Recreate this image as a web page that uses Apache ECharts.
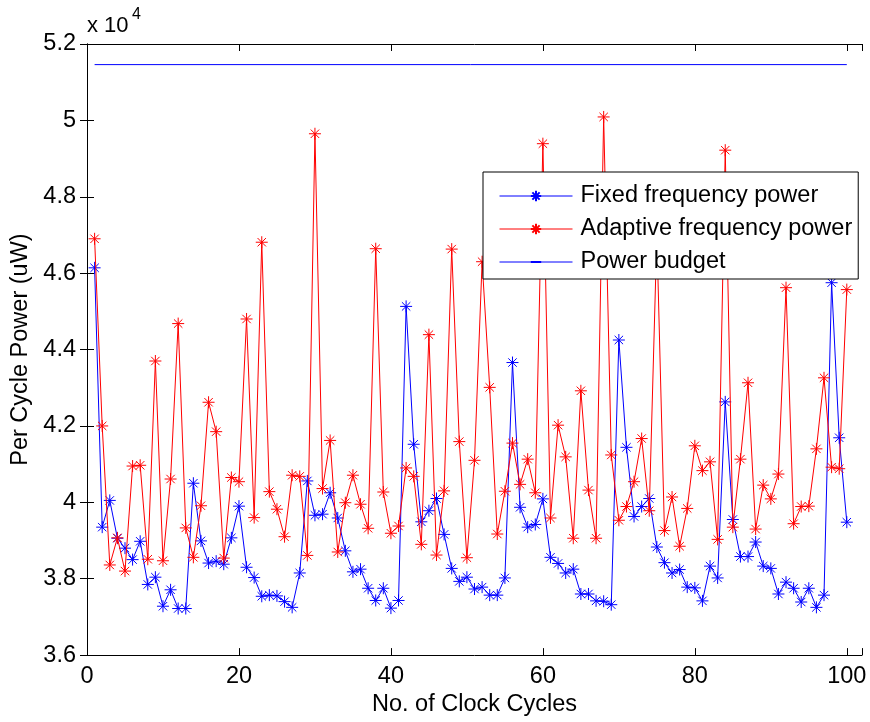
<!DOCTYPE html>
<html>
<head>
<meta charset="utf-8">
<script src="https://cdn.jsdelivr.net/npm/echarts@6/dist/echarts.min.js"></script>
<style>
html, body { margin: 0; padding: 0; background: #fff; }
#chart { width: 870px; height: 722px; }
</style>
</head>
<body>
<div id="chart"></div>
<script>
// clock cycle index (x)
var cycles = [1, 2, 3, 4, 5, 6, 7, 8, 9, 10, 11, 12, 13, 14, 15, 16, 17, 18, 19, 20,
  21, 22, 23, 24, 25, 26, 27, 28, 29, 30, 31, 32, 33, 34, 35, 36, 37, 38, 39, 40,
  41, 42, 43, 44, 45, 46, 47, 48, 49, 50, 51, 52, 53, 54, 55, 56, 57, 58, 59, 60,
  61, 62, 63, 64, 65, 66, 67, 68, 69, 70, 71, 72, 73, 74, 75, 76, 77, 78, 79, 80,
  81, 82, 83, 84, 85, 86, 87, 88, 89, 90, 91, 92, 93, 94, 95, 96, 97, 98, 99, 100];

// per cycle power, uW
var fixedPower = [46140, 39350, 40050, 39060, 38800, 38500, 38980, 37850, 38040, 37280,
  37710, 37220, 37220, 40500, 38990, 38410, 38460, 38380, 39070, 39900,
  38300, 38030, 37540, 37570, 37550, 37400, 37250, 38150, 40560, 39660,
  39690, 40250, 39590, 38730, 38180, 38250, 37750, 37430, 37750, 37230,
  37430, 45130, 41520, 39490, 39780, 40100, 39160, 38270, 37930, 38040,
  37730, 37780, 37570, 37570, 38020, 43660, 39870, 39350, 39420, 40090,
  38560, 38400, 38150, 38250, 37600, 37600, 37420, 37410, 37320, 44250,
  41440, 39630, 39890, 40100, 38830, 38420, 38150, 38240, 37780, 37760,
  37420, 38330, 38020, 42630, 39550, 38580, 38580, 38960, 38330, 38270,
  37600, 37910, 37750, 37390, 37750, 37250, 37570, 45750, 41690, 39480];

var adaptivePower = [46900, 42000, 38360, 39070, 38200, 40950, 40970, 38510, 43700, 38470,
  40610, 44680, 39330, 38560, 39910, 42620, 41850, 38540, 40650, 40540,
  44800, 39600, 46810, 40280, 39820, 39100, 40710, 40680, 38610, 49650,
  40360, 41620, 38700, 39990, 40710, 39950, 39320, 46640, 40270, 39190,
  39380, 40900, 40680, 38900, 44390, 38620, 40300, 46630, 41590, 38550,
  41100, 46300, 43010, 39170, 40290, 41550, 40470, 41130, 40250, 49390,
  39590, 42020, 41190, 39060, 42920, 40320, 39060, 50090, 41240, 39530,
  39890, 40540, 41670, 39780, 47000, 39260, 40140, 38850, 39840, 41480,
  40830, 41060, 39030, 49220, 39350, 41130, 43130, 39300, 40450, 40090,
  40740, 45620, 39440, 39890, 39900, 41400, 43260, 40920, 40880, 45570];

var powerBudget = 51460;

var seriesNames = ['Fixed frequency power', 'Adaptive frequency power', 'Power budget'];

function pairs(xs, ys) {
  return xs.map(function (x, k) { return [x, ys[k]]; });
}

var star = 'path://M0,-10L0,10M-10,0L10,0M-7,-7L7,7M-7,7L7,-7';
// plain line icon for the legend (square bounding box, only a horizontal stroke)
var flat = 'path://M-10,0L10,0M0,-10L0,-10M0,10L0,10';
var font = '"Liberation Sans", Arial, Helvetica, sans-serif';
var fs = 23.5;

var chart = echarts.init(document.getElementById('chart'));

var option = {
  animation: false,
  backgroundColor: '#fff',
  textStyle: { fontFamily: font },
  grid: { left: 87, right: 8, top: 44, bottom: 65, containLabel: false },
  legend: {
    data: seriesNames,
    orient: 'vertical',
    left: 483,
    top: 172,
    backgroundColor: '#fff',
    borderColor: '#000',
    borderWidth: 1,
    padding: [12, 6, 5, 16],
    itemWidth: 73,
    itemHeight: 13,
    itemGap: 9,
    lineStyle: { width: 1 },
    textStyle: { fontSize: fs, color: '#000', fontFamily: font, lineHeight: 24, padding: [0, 0, 0, 3] }
  },
  xAxis: [{
    type: 'value', min: 0, max: 102, interval: 20,
    name: 'No. of Clock Cycles', nameLocation: 'middle', nameGap: 36,
    nameTextStyle: { fontSize: fs, color: '#000', fontFamily: font },
    axisLine: { lineStyle: { color: '#000', width: 1 } },
    axisTick: { inside: true, length: 7, lineStyle: { color: '#000' } },
    axisLabel: {
      fontSize: fs, color: '#000', margin: 9, fontFamily: font,
      formatter: function (v) { return v % 20 === 0 ? String(v) : ''; }
    },
    splitLine: { show: false }
  }, {
    type: 'value', position: 'top', min: 0, max: 102, interval: 20,
    axisLine: { lineStyle: { color: '#000', width: 1 } },
    axisTick: { inside: true, length: 7, lineStyle: { color: '#000' } },
    axisLabel: { show: false },
    splitLine: { show: false }
  }],
  yAxis: [{
    type: 'value', min: 36000, max: 52000, interval: 2000,
    name: 'Per Cycle Power (uW)', nameLocation: 'middle', nameGap: 53,
    nameTextStyle: { fontSize: fs, color: '#000', fontFamily: font },
    axisLine: { show: true, lineStyle: { color: '#000', width: 1 } },
    axisTick: { show: true, inside: true, length: 7, lineStyle: { color: '#000' } },
    axisLabel: {
      fontSize: fs, color: '#000', margin: 11, fontFamily: font,
      formatter: function (v) { return String(parseFloat((v / 10000).toFixed(1))); }
    },
    splitLine: { show: false }
  }, {
    type: 'value', position: 'right', min: 36000, max: 52000, interval: 2000,
    axisLine: { show: true, lineStyle: { color: '#000', width: 1 } },
    axisTick: { show: true, inside: true, length: 7, lineStyle: { color: '#000' } },
    axisLabel: { show: false },
    splitLine: { show: false }
  }],
  graphic: [{
    type: 'text', left: 87, top: 15,
    style: { text: 'x 10', font: '22px ' + font, fill: '#000' }
  }, {
    type: 'text', left: 132, top: 7,
    style: { text: '4', font: '16px ' + font, fill: '#000' }
  }],
  series: [{
    name: seriesNames[0],
    type: 'line',
    data: pairs(cycles, fixedPower),
    symbol: star, symbolSize: 12, showAllSymbol: true,
    lineStyle: { color: '#0000ff', width: 1 },
    itemStyle: { color: '#0000ff', borderColor: '#0000ff', borderWidth: 1 },
    emphasis: { disabled: true },
    z: 2
  }, {
    name: seriesNames[1],
    type: 'line',
    data: pairs(cycles, adaptivePower),
    symbol: star, symbolSize: 12, showAllSymbol: true,
    lineStyle: { color: '#ff0000', width: 1 },
    itemStyle: { color: '#ff0000', borderColor: '#ff0000', borderWidth: 1 },
    emphasis: { disabled: true },
    z: 3
  }, {
    name: seriesNames[2],
    type: 'line',
    data: [[cycles[0], powerBudget], [cycles[cycles.length - 1], powerBudget]],
    symbol: flat, showSymbol: false,
    lineStyle: { color: '#0000ff', width: 1 },
    itemStyle: { color: '#0000ff', borderColor: '#0000ff', borderWidth: 1 },
    emphasis: { disabled: true },
    z: 2
  }]
};

chart.setOption(option);
</script>
</body>
</html>
